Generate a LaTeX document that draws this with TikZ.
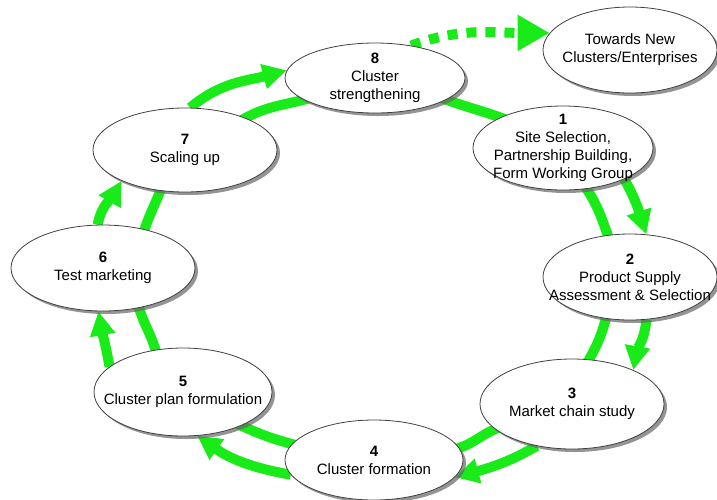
\documentclass[tikz,border=0pt]{standalone}
\usepackage{fontspec}
\setmainfont{Liberation Sans}
\usetikzlibrary{shapes.geometric,shadows,arrows.meta,backgrounds}
\definecolor{cgreen}{RGB}{25,235,25}
\tikzset{
  cyc/.style={ellipse, draw=black!75, line width=0.8pt, fill=white, inner sep=0pt,
    drop shadow={shadow xshift=3pt, shadow yshift=-3pt, fill=black!60, opacity=0.7}},
  lbl/.style={align=center, inner sep=0pt, font=\fontsize{15}{18}\selectfont},
  band/.style={line width=10pt, draw=cgreen, line cap=butt},
  plainband/.style={band, shorten <=-5pt, shorten >=-5pt},
  flow/.style={band, -{Triangle[length=24pt,width=24pt]}},
  dotflow/.style={band, dash pattern=on 10pt off 9pt, -{Triangle[length=32pt,width=34pt]}},
}
\begin{document}
\begin{tikzpicture}[x=1pt,y=1pt]
\useasboundingbox (0,0) rectangle (717,-499);
% ellipses
\node[cyc, minimum width=180pt, minimum height=70pt] (n8) at (375,-78) {};
\node[cyc, minimum width=174pt, minimum height=86pt] (nT) at (630,-50) {};
\node[cyc, minimum width=180pt, minimum height=84pt] (n1) at (563,-148) {};
\node[cyc, minimum width=174pt, minimum height=86pt] (n2) at (630,-277) {};
\node[cyc, minimum width=184pt, minimum height=90pt] (n3) at (572,-404) {};
\node[cyc, minimum width=178pt, minimum height=80pt] (n4) at (374,-460) {};
\node[cyc, minimum width=178pt, minimum height=88pt] (n5) at (183,-392) {};
\node[cyc, minimum width=184pt, minimum height=86pt] (n6) at (103,-268) {};
\node[cyc, minimum width=184pt, minimum height=84pt] (n7) at (185,-150) {};
% texts
\node[lbl] (t8) at (n8) {\textbf{8}\\Cluster\\strengthening};
\node[lbl] (tT) at (nT) {Towards New\\Clusters/Enterprises};
\node[lbl] (t1) at (n1) {\textbf{1}\\Site Selection,\\Partnership Building,\\Form Working Group};
\node[lbl] (t2) at (n2) {\textbf{2}\\Product Supply\\Assessment \& Selection};
\node[lbl] (t3) at (n3) {\textbf{3}\\Market chain study};
\node[lbl] (t4) at (n4) {\textbf{4}\\Cluster formation};
\node[lbl] (t5) at (n5) {\textbf{5}\\Cluster plan formulation};
\node[lbl] (t6) at (n6) {\textbf{6}\\Test marketing};
\node[lbl] (t7) at (n7) {\textbf{7}\\Scaling up};
% connectors
\begin{scope}[on background layer]
\draw[flow] (n7.83) to[out=40,in=195] (n8.175);
\draw[plainband] (n7.28) to[out=30,in=195] (n8.197);
\draw[plainband] (n8.-17) to[out=-20,in=160] (n1.154);
\draw[dotflow] (n8.42) to[out=20,in=180] (nT.168);
\draw[flow] (n1.-27) to[out=-60,in=108] (n2.69);
\draw[plainband] (n1.-60) to[out=-55,in=110] (n2.118);
\draw[flow] (n2.-69) to[out=-95,in=80] (n3.29);
\draw[plainband] (n2.-120) to[out=-105,in=60] (n3.69);
\draw[flow] (n3.-130) to[out=-150,in=15] (n4.-12);
\draw[plainband] (n3.-162) to[out=-160,in=15] (n4.8);
\draw[flow] (n4.-170) to[out=170,in=-35] (n5.-72);
\draw[plainband] (n4.169) to[out=165,in=-25] (n5.-30);
\draw[flow] (n5.161) to[out=100,in=-80] (n6.-96);
\draw[plainband] (n5.123) to[out=105,in=-75] (n6.-48);
\draw[flow] (n6.97) to[out=80,in=-120] (n7.-154);
\draw[plainband] (n6.43) to[out=72,in=-112] (n7.-121);
\end{scope}
\end{tikzpicture}
\end{document}
